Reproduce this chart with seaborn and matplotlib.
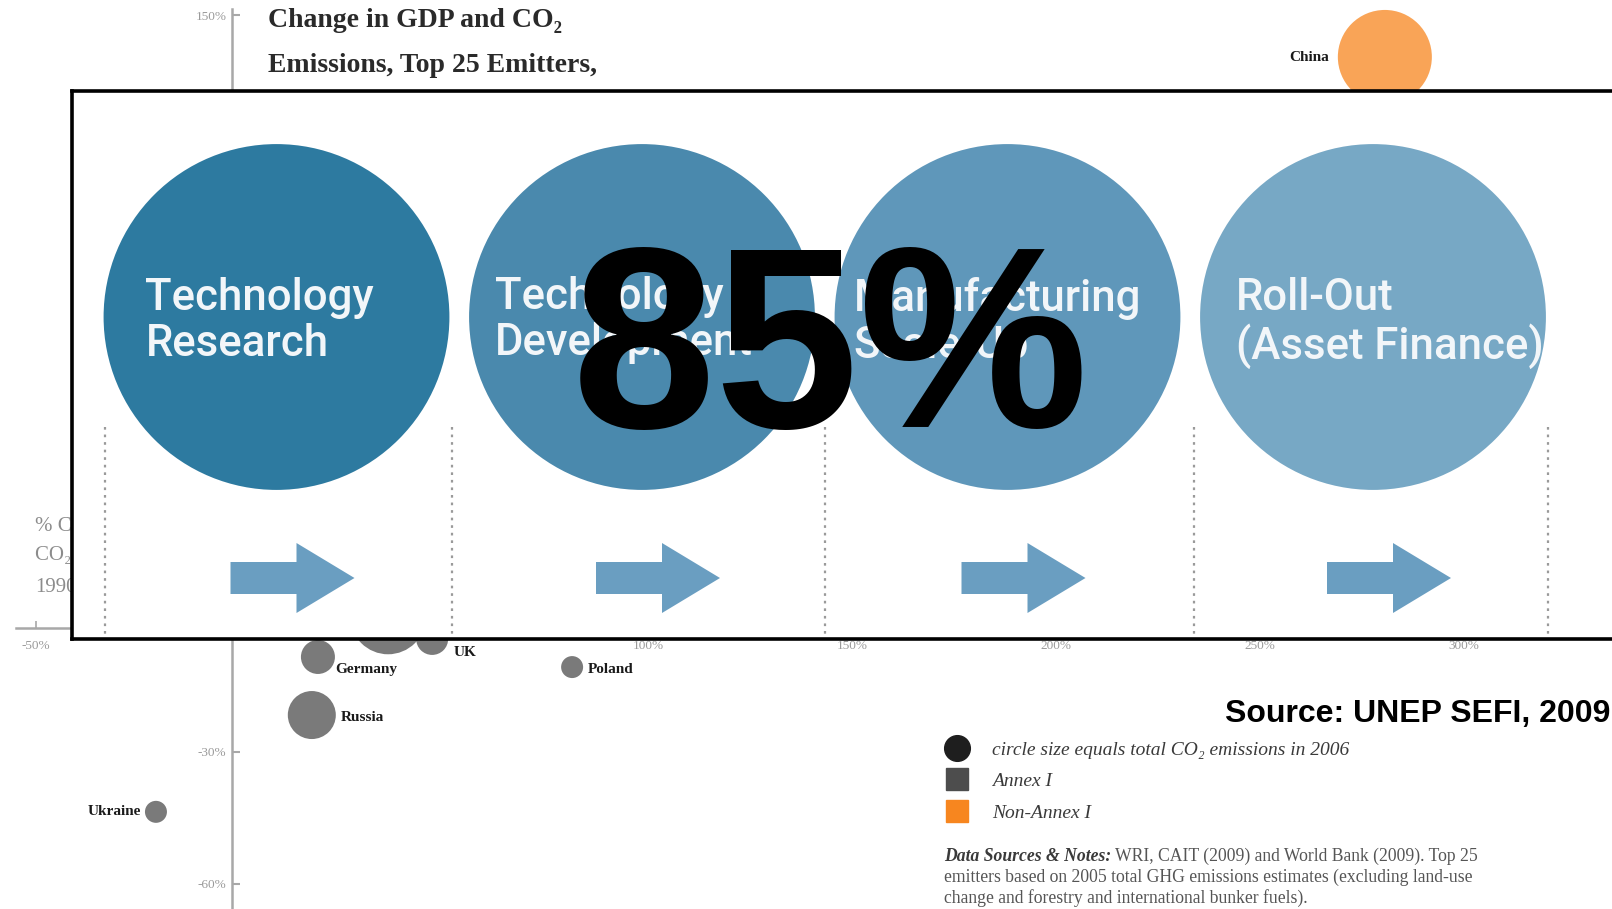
import numpy as np
import pandas as pd
import matplotlib
matplotlib.use("Agg")
import matplotlib.pyplot as plt
import seaborn as sns
from matplotlib.lines import Line2D
from matplotlib.font_manager import FontProperties

# ---------------- data ----------------
countries = ["China", "Japan", "Germany", "UK", "Poland", "Russia", "Ukraine"]
gdp_change = [280.6, 36.3, 19.1, 47.1, 81.4, 17.6, -20.6]      # % change GDP
co2_change = [139.7, 0.9, -8.4, -4.3, -10.7, -21.6, -43.6]     # % change CO2
co2_2006 = [6000, 3900, 785, 695, 328, 1564, 328]              # MtCO2 (circle size)
annex_group = ["Non-Annex I", "Annex I", "Annex I", "Annex I", "Annex I", "Annex I", "Annex I"]

x_ticks = [-50, 100, 150, 200, 250, 300]
x_tick_labels = ["-50%", "100%", "150%", "200%", "250%", "300%"]
y_ticks = [150, -30, -60]
y_tick_labels = ["150%", "-30%", "-60%"]

title_lines = ["Change in GDP and CO\u2082", "Emissions, Top 25 Emitters,"]
ylabel_lines = ["% Change in", "CO\u2082 Emissions", "1990-2006"]
legend_labels = ["circle size equals total CO\u2082 emissions in 2006", "Annex I", "Non-Annex I"]
note_bold = "Data Sources & Notes:"
note_lines = [" WRI, CAIT (2009) and World Bank (2009). Top 25",
              "emitters based on 2005 total GHG emissions estimates (excluding land-use",
              "change and forestry and international bunker fuels)."]

stages = ["Technology\nResearch", "Technology\nDevelopment", "Manufacturing\nScale-Up", "Roll-Out\n(Asset Finance)"]
stage_colors = ["#2d7aa0", "#4a89ad", "#5f97ba", "#77a8c5"]
headline = "85%"
source_text = "Source: UNEP SEFI, 2009"

# ---------------- styling / layout ----------------
group_colors = {"Annex I": "#4d4d4d", "Non-Annex I": "#f7861f"}
SERIF = ["Liberation Serif", "DejaVu Serif"]
W, H = 1612, 909
PX_X, X0 = 4.08, 240        # px per % GDP, px of 0%
PX_Y, Y0 = 4.4, 620         # px per % CO2, px of 0%
K_TOP = 0.916               # compressed upper part of the y axis

fig = plt.figure(figsize=(W / 100, H / 100), dpi=100)
fig.patch.set_facecolor("white")
ax = fig.add_axes([0, 0, 1, 1])


def fwd(y):
    y = np.asarray(y, float)
    return np.where(y > 0, y * K_TOP, y)


def inv(t):
    t = np.asarray(t, float)
    return np.where(t > 0, t / K_TOP, t)


df = pd.DataFrame(dict(country=countries, gdp=gdp_change, co2=co2_change,
                       emissions=co2_2006, group=annex_group))
sns.scatterplot(data=df, x="gdp", y="co2", size="emissions", sizes=(0, 4583),
                size_norm=(0, 6000), hue="group", palette=group_colors,
                alpha=0.75, linewidth=0, legend=False, ax=ax, zorder=3)
ax.set_yscale("function", functions=(fwd, inv))
ax.set_xlim(-X0 / PX_X, (W - X0) / PX_X)
ax.set_ylim((Y0 - H) / PX_Y, Y0 / PX_Y / K_TOP)
ax.set_xlabel("")
ax.set_ylabel("")
ax.patch.set_alpha(0)

axis_col = "#a8a8a8"
for s in ["top", "right"]:
    ax.spines[s].set_visible(False)
ax.spines["left"].set_position(("data", -2))
ax.spines["left"].set_bounds(-66, 151.5)
ax.spines["bottom"].set_position(("data", -1.8))
ax.spines["bottom"].set_bounds(-55, 336)
for s in ["left", "bottom"]:
    ax.spines[s].set_color(axis_col)
    ax.spines[s].set_linewidth(1.8)

ax.set_xticks(x_ticks)
ax.set_xticklabels(x_tick_labels)
ax.set_yticks(y_ticks)
ax.set_yticklabels(y_tick_labels)
ax.tick_params(axis="y", direction="in", length=6, width=1.5, color=axis_col,
               labelsize=9.5, labelcolor="#9a9a9a", pad=4)
ax.tick_params(axis="x", direction="in", length=5, width=1.2, color=axis_col,
               labelsize=9.5, labelcolor="#9a9a9a", pad=9)
for lab in ax.get_xticklabels() + ax.get_yticklabels():
    lab.set_fontfamily(SERIF)

# country labels (px offsets converted to points; negative dy = down)
label_layout = {"China": (-56, -1, "right"), "Germany": (17, -13, "left"),
                "UK": (21, -14, "left"), "Poland": (16, -2, "left"),
                "Russia": (29, -2, "left"), "Ukraine": (-15, 0, "right")}
for c, gx, gy in zip(countries, gdp_change, co2_change):
    if c in label_layout:
        dx, dy, ha = label_layout[c]
        ax.annotate(c, (gx, gy), xytext=(dx * 0.72, dy * 0.72), textcoords="offset points",
                    ha=ha, va="center", fontsize=11, fontweight="bold",
                    family=SERIF, color="#1a1a1a", zorder=4)

# y-axis label (mostly hidden by the overlay)
for txt, py in zip(ylabel_lines, [526, 556, 587]):
    ax.text(35 / W, 1 - py / H, txt, transform=ax.transAxes, ha="left", va="center",
            fontsize=15, family=SERIF, color="#8c8c8c")

# title
for txt, py in zip(title_lines, [27, 72]):
    ax.text(268 / W, 1 - py / H, txt, transform=ax.transAxes, ha="left", va="baseline",
            fontsize=20, fontweight="bold", family=SERIF, color="#2a2a2a")

# legend
handles = [Line2D([], [], marker="o", ls="", color="#1e1e1e", markersize=18.5),
           Line2D([], [], marker="s", ls="", color=group_colors["Annex I"], markersize=16),
           Line2D([], [], marker="s", ls="", color=group_colors["Non-Annex I"], markersize=16)]
leg = ax.legend(handles, legend_labels, loc="upper left",
                bbox_to_anchor=(947 / W, 1 - 741 / H), bbox_transform=fig.transFigure,
                frameon=False, prop=FontProperties(family=SERIF, style="italic", size=14),
                handlelength=1.0, handletextpad=1.3, labelspacing=0.72,
                borderpad=0, borderaxespad=0)
for t in leg.get_texts():
    t.set_color("#3a3a3a")

# notes
NOTE_FS = 12.7
nb = ax.text(944 / W, 1 - 861 / H, note_bold, transform=ax.transAxes, ha="left",
             va="baseline", fontsize=NOTE_FS, family=SERIF, fontweight="bold",
             style="italic", color="#3a3a3a")
fig.canvas.draw()
bb = nb.get_window_extent(fig.canvas.get_renderer())
ax.text(bb.x1 / W, 1 - 861 / H, note_lines[0], transform=ax.transAxes, ha="left",
        va="baseline", fontsize=NOTE_FS, family=SERIF, color="#555555")
for txt, py in zip(note_lines[1:], [882, 903]):
    ax.text(944 / W, 1 - py / H, txt, transform=ax.transAxes, ha="left",
            va="baseline", fontsize=NOTE_FS, family=SERIF, color="#555555")

# ---------------- overlay: innovation chain ----------------
OV_TOP, OV_BOT = 90.5, 638.5
STEP, C0 = 365.5, 276.5
ov = fig.add_axes([72 / W, 1 - OV_BOT / H, (W + 20 - 72) / W, (OV_BOT - OV_TOP) / H])
ov.set_zorder(5)
ov.set_facecolor("white")
for s in ov.spines.values():
    s.set_linewidth(2.6)
    s.set_color("black")

stage_idx = list(range(len(stages)))
sns.scatterplot(x=stage_idx, y=[317] * len(stages), hue=stages,
                palette=dict(zip(stages, stage_colors)), s=62000, linewidth=0,
                legend=False, ax=ov, zorder=2)
ov.set_xlim((72 - C0) / STEP, (W + 20 - C0) / STEP)
ov.set_ylim(OV_BOT, OV_TOP)
ov.set_xlabel("")
ov.set_ylabel("")
ov.set_xticks([])
ov.set_yticks([])

text_dx = [-131, -147, -154, -137]
text_down = [4, 3, 5, 6]
for i, (st, dx, dd) in enumerate(zip(stages, text_dx, text_down)):
    ov.annotate(st, (i, 317), xytext=(dx * 0.72, -dd * 0.72), textcoords="offset points",
                ha="left", va="center", fontsize=31.5, family="Roboto",
                fontweight="medium", color="#f2f6f9", linespacing=1.14, zorder=3)

for i in stage_idx:
    ov.arrow(i - 46 / STEP, 578, 124 / STEP, 0, width=32, head_width=70,
             head_length=58 / STEP, length_includes_head=True,
             color="#6a9ec1", linewidth=0, zorder=2)

ov.vlines([-0.47, 0.48, 1.5, 2.51, 3.48], 427, 634, colors="#9a9a9a",
          linestyles=(0, (1.2, 2.2)), linewidth=1.6, zorder=1)

# ---------------- headline & source ----------------
fig.text(572 / W, 1 - 427 / H, headline, fontsize=186, fontweight="bold",
         family="Liberation Sans", ha="left", va="baseline", color="black", zorder=10)
fig.text(1610 / W, 1 - 722 / H, source_text, fontsize=23, fontweight="bold",
         family="Liberation Sans", ha="right", va="baseline", color="black", zorder=10)

fig.savefig("out.png", dpi=100, facecolor="white")
